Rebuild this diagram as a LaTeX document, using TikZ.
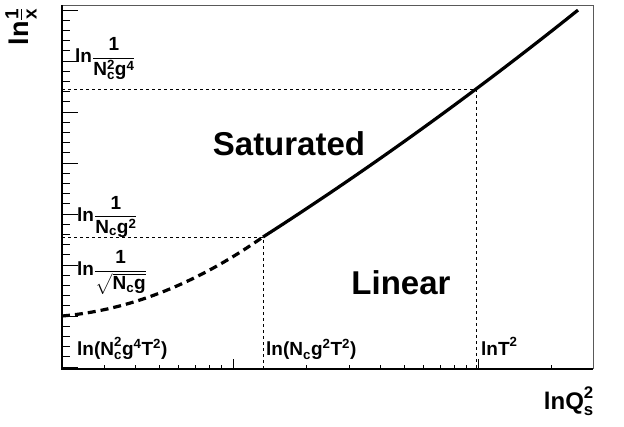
\documentclass[tikz,border=0pt]{standalone}
\usepackage{amsmath}
\usepackage{fontspec}
\setmainfont{Liberation Sans}
\newcommand{\mb}[1]{\mathbf{#1}}

\begin{document}
\begin{tikzpicture}[x=1pt, y=-1pt,
    guide/.style = {black, line width=0.9pt, dash pattern=on 3pt off 3pt},
    ticklab/.style = {anchor=base west, inner sep=0pt, font=\fontsize{19}{19}\bfseries},
    region/.style = {font=\fontsize{33}{33}\bfseries, inner sep=0pt}]
    \useasboundingbox (0,0) rectangle (624,426);

    % Frame and axes
    \draw[gray!70!black, line width=1pt] (62,5) -- (593,5) -- (593,369);
    \draw[black, line width=1.2pt] (62,5) -- (62,369) -- (593,369);

    % Axis ticks
    \foreach \k in {0,...,35} {
        \pgfmathsetmacro{\yy}{10+10.2*\k}
        \pgfmathsetmacro{\len}{ifthenelse(mod(\k,5)==0,16,8)}
        \draw[line width=0.8pt] (62,\yy) -- ++(\len,0);
    }
    \foreach \v in {3,4,5,6,7,8,9,20,30,40,50,60,70,80,90,200}
        \draw[line width=0.8pt] ({-12+245*log10(\v)},369) -- ++(0,-4);
    \foreach \v in {10,100}
        \draw[line width=0.8pt] ({-12+245*log10(\v)},369) -- ++(0,-10);

    % Guide lines
    \draw[guide] (62,89) -- (476,89) -- (476,369);
    \draw[guide] (62,237) -- (263,237) -- (263,369);

    % Curves
    \draw[line width=3.2pt, dash pattern=on 8pt off 5pt]
        plot[domain=62:263, samples=40] (\x, {316-0.086*(\x-62)-(0.0391*(\x-62))^2});
    \draw[line width=3.2pt]
        plot[domain=263:578, samples=50] (\x, {237-0.641*(\x-263)-(0.01587*(\x-263))^2});

    % Axis titles
    \node[rotate=90, anchor=east, inner sep=0pt, font=\fontsize{27}{27}\bfseries] (ytitle) at (21,8)
        {$\mb{ln}\frac{\mb{1}}{\mb{x}}$};
    \node[anchor=base east, inner sep=0pt, font=\fontsize{24}{24}\bfseries] (xtitle) at (594,409)
        {$\mb{lnQ}_{\mb{s}}^{\mb{2}}$};

    % Level labels
    \node[ticklab] (lvlA) at (75,62.5) {$\mb{ln}\dfrac{\mb{1}}{\mb{N}_{\mb{c}}^{\mb{2}}\mb{g}^{\mb{4}}}$};
    \node[ticklab] (lvlB) at (77,221) {$\mb{ln}\dfrac{\mb{1}}{\mb{N}_{\mb{c}}\mb{g}^{\mb{2}}}$};
    \node[ticklab] (lvlC) at (77,275.5) {$\mb{ln}\dfrac{\mb{1}}{\sqrt{\mb{N}_{\mb{c}}\mb{g}}}$};

    \node[ticklab] (scaleA) at (77,355) {$\text{ln(N}_{\mb{c}}^{\mb{2}}\mb{g}^{\mb{4}}\mb{T}^{\mb{2}}\text{)}$};
    \node[ticklab] (scaleB) at (266,355) {$\text{ln(N}_{\mb{c}}\mb{g}^{\mb{2}}\mb{T}^{\mb{2}}\text{)}$};
    \node[ticklab] (scaleC) at (481,355) {$\mb{lnT}^{\mb{2}}$};

    % Regions
    \node[region] (sat) at (289,144) {Saturated};
    \node[region] (lin) at (401,283) {Linear};
\end{tikzpicture}
\end{document}
